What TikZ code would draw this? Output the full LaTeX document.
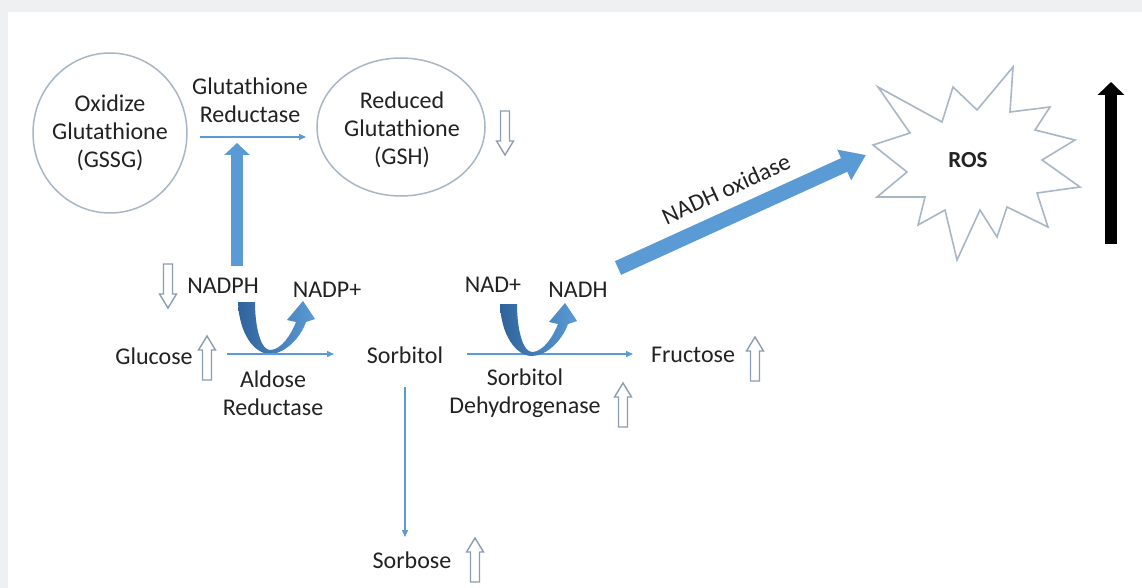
\documentclass[tikz,border=0pt]{standalone}
\usepackage{fontspec}
\setmainfont{Carlito}
\usetikzlibrary{arrows.meta,shapes.geometric}
\definecolor{bggray}{HTML}{EEF0F2}
\definecolor{txt}{HTML}{222222}
\definecolor{ublue}{HTML}{5B9BD5}
\definecolor{udark}{HTML}{2F639B}
\definecolor{hollowc}{HTML}{8E9CB0}
\definecolor{ringc}{HTML}{A9B6C6}
\tikzset{
  lbl/.style={font=\fontsize{24pt}{28pt}\selectfont, text=txt, align=center, inner sep=0pt},
  ring/.style={draw=ringc, line width=1.5pt, ellipse, inner sep=0pt},
  thinarrow/.style={draw=ublue, line width=1.4pt, -{Triangle[length=7pt,width=6pt]}},
  thickarrow/.style={draw=ublue, line width=12pt, -{Triangle[length=12pt,width=25pt]}},
  hollow/.style={draw=hollowc, line width=1.4pt, fill=white, line join=miter},
  starline/.style={draw=ringc, line width=1.6pt, fill=white, line join=miter},
  hollowup/.pic={\draw[hollow] (0,-22) -- (8.5,-8) -- (4.5,-8) -- (4.5,22) -- (-4.5,22) -- (-4.5,-8) -- (-8.5,-8) -- cycle;},
  hollowdown/.pic={\draw[hollow] (0,22) -- (8.5,8) -- (4.5,8) -- (4.5,-22) -- (-4.5,-22) -- (-4.5,8) -- (-8.5,8) -- cycle;},
  ucurve/.pic={\shade[left color=udark, right color=ublue]
    (-32,-51) .. controls (-31,-20) and (-16,1) .. (0,1)
    .. controls (14,1) and (30,-14) .. (36,-31)
    -- (45,-34) -- (33,-52) -- (17,-33) -- (26,-31)
    .. controls (21,-18) and (11,-3) .. (0,-3)
    .. controls (-9,-3) and (-15,-25) .. (-15,-51) -- cycle;}
}
\begin{document}
\begin{tikzpicture}[x=1pt,y=-1pt]
\useasboundingbox (0,0) rectangle (1142,588);
\fill[bggray] (0,0) rectangle (1142,588);
\fill[white] (8,12) rectangle (1142,588);

% glutathione circles
\node[ring, minimum width=154pt, minimum height=160pt] (gssg) at (110,133) {};
\node[lbl] (gssgT) at (gssg.center) {Oxidize\\Glutathione\\(GSSG)};
\node[ring, minimum width=168pt, minimum height=138pt] (gsh) at (401,127) {};
\node[lbl] (gshT) at (402,130) {Reduced\\Glutathione\\(GSH)};
\node[lbl] (grT) at (250,100) {Glutathione\\Reductase};
\coordinate (grS) at (200,137);
\coordinate (grE) at (306,137);
\draw[thinarrow] (grS) -- (grE);
\pic at (505,133) {hollowdown};

% NADPH / NADP+
\node[lbl] (nadph) at (223,286) {NADPH};
\node[lbl] (nadpp) at (327,290) {NADP+};
\pic at (168,286) {hollowdown};
\coordinate (nadphTop) at (237,266);
\coordinate (grMid) at (237,143);
\draw[thickarrow] (nadphTop) -- (grMid);
\pic at (270,353) {ucurve};

% main chain
\node[lbl] (glucose) at (154,356) {Glucose};
\pic at (207,358) {hollowup};
\node[lbl] (sorbitol) at (405,355) {Sorbitol};
\node[lbl] (fructose) at (693,355) {Fructose};
\pic at (755,359) {hollowup};
\node[lbl] (aldose) at (273,393) {Aldose\\Reductase};
\node[lbl] (sdh) at (525,393) {Sorbitol\\Dehydrogenase};
\pic at (623,405) {hollowup};
\coordinate (g1) at (227,354);
\coordinate (g2) at (334,354);
\draw[thinarrow] (g1) -- (g2);
\coordinate (s1) at (467,354);
\coordinate (s2) at (633,354);
\draw[thinarrow] (s1) -- (s2);
\node[lbl] (sorbose) at (412,560) {Sorbose};
\pic at (475,560) {hollowup};
\coordinate (so1) at (405,387);
\coordinate (so2) at (405,537);
\draw[thinarrow] (so1) -- (so2);

% NAD+ / NADH
\node[lbl] (nadp) at (493,285) {NAD+};
\node[lbl] (nadh) at (578,290) {NADH};
\pic at (532,355) {ucurve};

% ROS
\draw[starline] (878,87) -- (942,122) -- (953,87) -- (977,110) -- (1013,67) -- (1010,112)
  -- (1050,107) -- (1035,130) -- (1075,140) -- (1042,160) -- (1080,187) -- (1037,193)
  -- (1048,227) -- (1007,207) -- (997,237) -- (980,210) -- (957,260) -- (945,210)
  -- (918,225) -- (925,197) -- (877,197) -- (907,172) -- (873,145) -- (910,133) -- cycle;
\node[lbl, font=\fontsize{23pt}{28pt}\selectfont\bfseries] (ros) at (968,160) {ROS};
\coordinate (oxS) at (618,268);
\coordinate (oxE) at (866,155);
\draw[draw=ublue, line width=15pt, -{Triangle[length=24pt,width=32pt]}] (oxS) -- (oxE);
\node[lbl, rotate=24.5] (oxT) at (726,189) {NADH oxidase};

% black arrow
\coordinate (up1) at (1111,244);
\coordinate (up2) at (1111,82);
\draw[line width=12pt, -{Triangle[length=13pt,width=26pt]}] (up1) -- (up2);
\end{tikzpicture}
\end{document}
